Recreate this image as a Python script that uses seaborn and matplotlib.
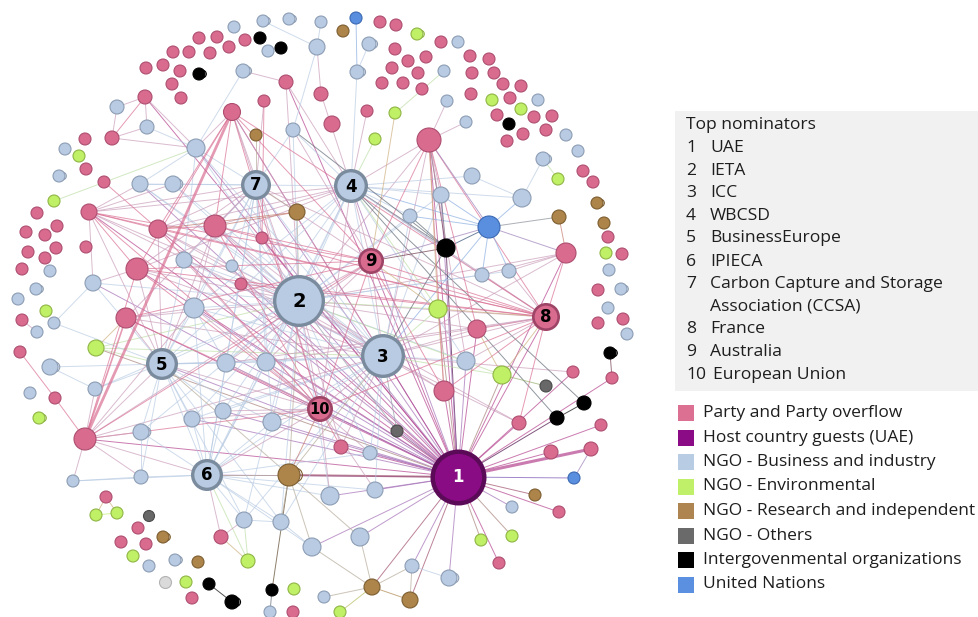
import numpy as np
import pandas as pd
import matplotlib
matplotlib.use("Agg")
import matplotlib.pyplot as plt
import matplotlib.colors as mcolors
from matplotlib.collections import LineCollection
from matplotlib.patches import Rectangle
import seaborn as sns

sns.set_theme(style="white")
plt.rcParams["font.family"] = ["Open Sans", "DejaVu Sans"]

# ---- nodes: (name, x, y, radius, self-loop) in layout units ----
party = [
    ("p1", 199, 38, 6, 0), ("p2", 217, 37, 6, 0), ("p3", 245, 40, 6, 0), ("p4", 229, 47, 6, 0),
    ("p5", 173, 52, 6, 0), ("p6", 189, 52, 6, 0), ("p7", 210, 53, 6, 0), ("p8", 146, 68, 6, 0),
    ("p9", 163, 65, 6, 0), ("p10", 180, 71, 6, 0), ("p11", 172, 84, 6, 0), ("p12", 181, 98, 6, 0),
    ("p13", 286, 82, 7, 0), ("p14", 321, 94, 7, 0), ("p15", 145, 97, 7, 0), ("p16", 264, 101, 6, 0),
    ("p17", 232, 112, 8.5, 0), ("p18", 112, 138, 7, 0), ("p19", 85, 139, 6, 0), ("p20", 86, 169, 6, 0),
    ("p21", 104, 182, 6, 0), ("p22", 37, 213, 6, 0), ("p23", 89, 212, 8, 0), ("p24", 57, 226, 6, 0),
    ("p25", 26, 232, 6, 0), ("p26", 45, 235, 6, 0), ("p27", 158, 229, 9, 0), ("p28", 215, 226, 11, 0),
    ("p29", 28, 252, 6, 0), ("p30", 56, 248, 6, 0), ("p31", 86, 247, 6, 0), ("p32", 262, 238, 6, 0),
    ("p33", 45, 258, 6, 0), ("p34", 22, 269, 6, 0), ("p35", 137, 269, 11, 0), ("p36", 241, 284, 6, 0),
    ("p37", 332, 124, 8, 0), ("p38", 380, 22, 6, 0), ("p39", 396, 25, 6, 0), ("p40", 395, 49, 6, 0),
    ("p41", 426, 57, 6, 0), ("p42", 408, 61, 6, 0), ("p43", 392, 68, 6, 0), ("p44", 418, 73, 6, 0),
    ("p45", 382, 83, 6, 0), ("p46", 403, 83, 6, 0), ("p47", 422, 89, 6, 0), ("p48", 441, 42, 6, 0),
    ("p49", 470, 56, 6, 0), ("p50", 489, 59, 6, 0), ("p51", 472, 73, 6, 0), ("p52", 494, 73, 6, 0),
    ("p53", 503, 84, 6, 0), ("p54", 521, 86, 6, 0), ("p55", 471, 94, 6, 0), ("p56", 510, 98, 6, 0),
    ("p57", 497, 115, 6, 0), ("p58", 534, 117, 6, 0), ("p59", 552, 116, 6, 0), ("p60", 523, 134, 6, 0),
    ("p61", 507, 141, 6, 0), ("p62", 546, 130, 6, 0), ("p63", 367, 111, 6, 0), ("p64", 429, 140, 12, 0),
    ("p65", 583, 171, 6, 0), ("p66", 593, 182, 6, 0), ("p67", 608, 237, 6, 0), ("p68", 622, 254, 6, 0),
    ("p69", 566, 253, 10, 0), ("p70", 598, 290, 6, 0), ("p71", 598, 323, 6, 0), ("p72", 623, 319, 6, 0),
    ("p73", 477, 329, 9, 0), ("p74", 444, 391, 10, 0), ("p75", 573, 372, 6, 0), ("p76", 612, 378, 6, 0),
    ("p77", 519, 423, 7, 0), ("p78", 601, 425, 6, 0), ("p79", 591, 449, 7, 0), ("p80", 551, 452, 7, 0),
    ("p81", 559, 512, 6, 0), ("p82", 499, 563, 6, 0), ("p83", 341, 447, 7, 0), ("p84", 126, 318, 10, 0),
    ("p85", 22, 320, 6, 0), ("p86", 20, 352, 6, 0), ("p87", 55, 398, 6, 0), ("p88", 85, 439, 11, 0),
    ("p89", 106, 497, 6, 0), ("p90", 138, 528, 6, 0), ("p91", 121, 542, 6, 0), ("p92", 146, 544, 6, 0),
    ("p93", 192, 598, 6, 0), ("p94", 221, 537, 7, 0), ("p95", 293, 612, 6, 0),
]
business = [
    ("b1", 234, 27, 6, 0), ("b2", 263, 21, 6, 1), ("b3", 289, 19, 6, 1), ("b4", 321, 22, 6, 0),
    ("b5", 268, 51, 6, 0), ("b6", 317, 47, 8, 0), ("b7", 243, 71, 7, 1), ("b8", 117, 107, 7, 0),
    ("b9", 147, 127, 7, 0), ("b10", 293, 130, 7, 0), ("b11", 65, 149, 6, 0), ("b12", 196, 148, 9, 0),
    ("b13", 59, 176, 6, 1), ("b14", 140, 184, 8, 0), ("b15", 173, 184, 8, 1), ("b16", 184, 260, 8, 0),
    ("b17", 232, 266, 6, 0), ("b18", 93, 283, 8, 0), ("b19", 50, 271, 6, 0), ("b20", 36, 289, 6, 1),
    ("b21", 18, 299, 6, 0), ("b22", 194, 308, 10, 0), ("b23", 54, 323, 6, 0), ("b24", 37, 332, 6, 0),
    ("b25", 50, 367, 8, 1), ("b26", 226, 363, 9, 0), ("b27", 266, 362, 9, 0), ("b28", 30, 393, 6, 0),
    ("b29", 95, 389, 7, 0), ("b30", 141, 432, 8, 1), ("b31", 192, 419, 8, 0), ("b32", 223, 411, 8, 0),
    ("b33", 272, 422, 9, 0), ("b34", 73, 481, 6, 0), ("b35", 141, 477, 7, 0), ("b36", 244, 520, 8, 0),
    ("b37", 281, 522, 8, 0), ("b38", 312, 547, 9, 0), ("b39", 330, 496, 9, 0), ("b40", 375, 490, 8, 0),
    ("b41", 370, 453, 7, 0), ("b42", 360, 537, 9, 0), ("b43", 149, 566, 6, 0), ("b44", 175, 560, 6, 1),
    ("b45", 270, 612, 6, 0), ("b46", 324, 597, 6, 0), ("b47", 412, 566, 7, 0), ("b48", 449, 578, 8, 1),
    ("b49", 512, 507, 6, 0), ("b50", 466, 361, 9, 0), ("b51", 482, 275, 7, 0), ("b52", 509, 271, 7, 0),
    ("b53", 522, 198, 9, 0), ("b54", 441, 195, 8, 0), ("b55", 410, 216, 7, 0), ("b56", 472, 176, 8, 0),
    ("b57", 466, 122, 6, 0), ("b58", 447, 101, 6, 0), ("b59", 444, 71, 6, 0), ("b60", 357, 72, 7, 1),
    ("b61", 369, 44, 7, 1), ("b62", 458, 42, 6, 0), ("b63", 538, 100, 6, 0), ("b64", 566, 135, 6, 0),
    ("b65", 578, 151, 6, 0), ("b66", 543, 159, 7, 1), ("b67", 609, 270, 6, 0), ("b68", 621, 289, 6, 1),
    ("b69", 608, 308, 6, 0), ("b70", 627, 334, 6, 0),
]
environmental = [
    ("g1", 417, 34, 6, 1), ("g2", 395, 113, 6, 0), ("g3", 375, 139, 6, 0), ("g4", 492, 100, 6, 0),
    ("g5", 521, 109, 6, 0), ("g6", 558, 179, 6, 0), ("g7", 606, 253, 6, 0), ("g8", 79, 156, 6, 0),
    ("g9", 54, 201, 6, 0), ("g10", 46, 311, 6, 0), ("g11", 96, 348, 8, 0), ("g12", 39, 418, 6, 1),
    ("g13", 96, 515, 6, 0), ("g14", 117, 513, 6, 0), ("g15", 133, 556, 6, 0), ("g16", 186, 582, 6, 0),
    ("g17", 248, 561, 7, 0), ("g18", 294, 589, 6, 0), ("g19", 340, 612, 6, 0), ("g20", 438, 309, 9, 0),
    ("g21", 502, 375, 9, 0), ("g22", 481, 540, 6, 0), ("g23", 512, 536, 6, 0),
]
research = [
    ("r1", 343, 31, 6, 0), ("r2", 256, 135, 6, 0), ("r3", 297, 212, 8, 0), ("r4", 597, 203, 6, 1),
    ("r5", 604, 223, 6, 0), ("r6", 559, 217, 7, 0), ("r7", 289, 475, 11, 1), ("r8", 163, 537, 6, 1),
    ("r9", 198, 562, 6, 0), ("r10", 372, 587, 8, 0), ("r11", 410, 600, 8, 0), ("r12", 535, 495, 6, 0),
]
others = [("o1", 149, 516, 5.5, 0), ("o2", 546, 386, 6, 0), ("o3", 397, 431, 6, 0)]
unclassified = [("x1", 165, 582, 6, 0)]
igo = [
    ("i1", 260, 38, 6, 0), ("i2", 281, 48, 6, 0), ("i3", 199, 74, 6, 1), ("i4", 509, 124, 6, 0),
    ("i5", 446, 248, 9, 0), ("i6", 610, 353, 6, 1), ("i7", 584, 403, 7, 0), ("i8", 557, 418, 7, 0),
    ("i9", 209, 584, 6, 0), ("i10", 232, 602, 7, 1), ("i11", 272, 590, 6, 0),
]
united_nations = [("u1", 356, 18, 6, 0), ("u2", 489, 227, 11, 0), ("u3", 574, 478, 6, 0)]

# top nominators: (name, label, kind, x, y, radius)
hubs = [
    ("H1", "1", "host", 458, 477, 28), ("H2", "2", "business", 299, 301, 26),
    ("H3", "3", "business", 383, 356, 22), ("H4", "4", "business", 351, 186, 17),
    ("H5", "5", "business", 162, 364, 16), ("H6", "6", "business", 207, 475, 16),
    ("H7", "7", "business", 256, 185, 15), ("H8", "8", "party", 546, 317, 14),
    ("H9", "9", "party", 371, 261, 13), ("H10", "10", "party", 320, 409, 13),
]
nominator_names = ["UAE", "IETA", "ICC", "WBCSD", "BusinessEurope", "IPIECA",
                   "Carbon Capture and Storage\nAssociation (CCSA)", "France",
                   "Australia", "European Union"]

# ---- co-nomination links ----
uae_links = ("H2 H3 H4 H5 H6 H7 H8 H9 H10 p17 p23 p27 p28 p35 p84 p88 p64 p69 p73 p74 p75 p76 "
             "p77 p78 p79 p80 p81 p82 p83 u3 r12 b49 g22 g23 b48 b47 r10 r11 b42 b38 b39 b40 "
             "b41 o3 r7 i5 i8 g20 g21 b50 b54 b22 b26 b27 b32 b33 p36 p32 p13 b16 b12 p15 "
             "b14 b18 g11 b31").split()
ieta_links = ("H3 H4 H5 H6 H7 H8 H9 H10 p17 p23 p27 p28 p32 p35 p36 p84 p88 b12 b14 b15 b16 b17 "
              "b18 b22 b26 b27 b31 b32 b33 r3 g11 p13 p64 b10 b55 b54 g20 p73 b50 p74 g21 b36 "
              "b37 r7 b39 b41 p83 b29 b30 p69 b51 b52 p77 o3").split()
icc_links = ("H4 H5 H6 H7 H8 H9 H10 p17 p23 p27 p28 p35 p84 p88 b22 b26 b27 b31 b32 b33 b16 g11 "
             "g20 p73 b50 p74 g21 p77 o3 p83 b41 b40 r7 p64 i5 u2 b55 p75 b54 p69 b12 b14 "
             "b15 p36 b36 b37").split()
wbcsd_links = ("H5 H6 H7 H8 H9 H10 b60 g3 p63 p14 p13 b10 b55 b56 b54 i5 u2 i7 i8 b26 b27 b22 "
               "p28 p27 b53 p64 b51 p35 p23 g20 b50").split()
be_links = ("H6 H7 H10 b18 b22 b23 b25 b29 b30 b31 b32 b26 b27 b33 g11 p84 p35 p23 p88 b16 r7 "
            "b35 p27 p28 b36 b37").split()
ipieca_links = ("H7 H10 b30 b31 b32 b33 b34 b35 b36 b37 p94 g17 r7 b39 p88 b26 b27 b22 b41 "
                "b40 b38").split()
ccsa_links = ("H8 H9 H10 b12 b14 b15 p16 r2 p17 p27 p28 p23 r3 p32 b16 b26 b27 b22 p35 b10 "
              "b17 p84 b33").split()
france_links = ("H9 H10 g20 p73 b50 g21 p74 p69 p64 b51 b52 p77 p36 p28 p17 p23 p27 p35 "
                "b26 b27").split()
australia_links = ("H10 b10 i5 u2 g2 p64 p17 p28 p74 b26 b27 p88 p35 g20 p23 p84").split()
eu_links = ("p88 p84 b26 b27 b31 b32 b33 p83 b41 b40 b39 r7 p35 p23 p28 p17 b22 b16 p27").split()
other_links = [
    ("b2", "b6"), ("b4", "b6"), ("b6", "p14"), ("b6", "b10"), ("b7", "b12"), ("b7", "p13"),
    ("p15", "b8"), ("p15", "b9"), ("p15", "p18"), ("p15", "b12"), ("b8", "p18"), ("p18", "b9"),
    ("b9", "b12"), ("p18", "b12"), ("g9", "b12"), ("b12", "p17"), ("b12", "b14"), ("b12", "b16"),
    ("p16", "p32"), ("p21", "p27"), ("p23", "b14"), ("p23", "b15"), ("p23", "p27"), ("p23", "b18"),
    ("p23", "p35"), ("b14", "b15"), ("p27", "r3"), ("p28", "p17"), ("p28", "r3"), ("p27", "p28"),
    ("p35", "b18"), ("b22", "b26"), ("b22", "p28"), ("p84", "g11"), ("p84", "b22"), ("p85", "b24"),
    ("p86", "p87"), ("p87", "p88"), ("b29", "b25"), ("b23", "b18"), ("p88", "b34"),
    ("p88", "b35"), ("p88", "b22"), ("p88", "b29"), ("b34", "b35"), ("b35", "b30"), ("r7", "i11"),
    ("r7", "b38"), ("r7", "b37"), ("r7", "b42"), ("g17", "b36"), ("p94", "g17"), ("p94", "b36"),
    ("b36", "b37"), ("b37", "b38"), ("b38", "r10"), ("b42", "r10"), ("r10", "r11"), ("r10", "b47"),
    ("r11", "b47"), ("b47", "b48"), ("r10", "g19"), ("r10", "b46"), ("p89", "g13"), ("p89", "g14"),
    ("g13", "g14"), ("i9", "i10"), ("i11", "b45"), ("p69", "r6"), ("p69", "u2"), ("p69", "b52"),
    ("p69", "b51"), ("u2", "b53"), ("u2", "b54"), ("u2", "b55"), ("u2", "b51"), ("u2", "b52"),
    ("u2", "i5"), ("u2", "r6"), ("b53", "b66"), ("b66", "g6"), ("b53", "b56"), ("i5", "b54"),
    ("i5", "b10"), ("i5", "b55"), ("p64", "b57"), ("p64", "b58"), ("p64", "b54"), ("p64", "i5"),
    ("p64", "u2"), ("g2", "b59"), ("b60", "u1"), ("b61", "b60"), ("g21", "o2"), ("p74", "g20"),
    ("p73", "g21"), ("p76", "i6"), ("i7", "i8"), ("p79", "u3"), ("p88", "p84"), ("p88", "p17"),
    ("p88", "p35"), ("p88", "b30"), ("p17", "p35"), ("p17", "p27"), ("p64", "p73"), ("p64", "b50"),
    ("p64", "p74"), ("p64", "g20"),
]
heavy_links = {("p88", "p17"): 2.0, ("H1", "p79"): 2.2, ("H1", "r7"): 1.4, ("p88", "p84"): 1.2}

fill = {
    "party": "#d96b8f", "host": "#8a0c85", "business": "#b8cbe3", "environmental": "#bff066",
    "research": "#ad8449", "others": "#686868", "igo": "#000000", "un": "#5a8fdf",
    "unclassified": "#dadada",
}
rim = {
    "party": "#ad4e70", "host": "#5b0a57", "business": "#8c9db4", "environmental": "#8fb545",
    "research": "#7d5e31", "others": "#4a4a4a", "igo": "#000000", "un": "#3b69b2",
    "unclassified": "#b3b3b3",
}
groups = {
    "party": party, "business": business, "environmental": environmental,
    "research": research, "others": others, "unclassified": unclassified,
    "igo": igo, "un": united_nations,
}

rows = []
for kind, items in groups.items():
    for name, x, y, r, loop in items:
        rows.append(dict(name=name, x=x, y=y, r=r, loop=loop, kind=kind, label=""))
for name, label, kind, x, y, r in hubs:
    rows.append(dict(name=name, x=x, y=y, r=r, loop=0, kind=kind, label=label))
nodes = pd.DataFrame(rows).set_index("name", drop=False)

edge_pairs = []
for hub, links in [("H1", uae_links), ("H2", ieta_links), ("H3", icc_links), ("H4", wbcsd_links),
                   ("H5", be_links), ("H6", ipieca_links), ("H7", ccsa_links),
                   ("H8", france_links), ("H9", australia_links), ("H10", eu_links)]:
    edge_pairs += [(hub, t) for t in links]
edge_pairs += other_links

segs, cols, widths = [], [], []
for a, b in edge_pairs:
    na, nb = nodes.loc[a], nodes.loc[b]
    segs.append([(na.x, na.y), (nb.x, nb.y)])
    ca = np.array(mcolors.to_rgb(fill[na.kind]))
    cb = np.array(mcolors.to_rgb(fill[nb.kind]))
    mix = 0.5 * (ca + cb)
    cols.append((*mix, 0.68))
    widths.append(heavy_links.get((a, b), heavy_links.get((b, a), 0.7)))

PX = 0.72  # points per layout unit at 100 dpi
fig = plt.figure(figsize=(9.79, 6.17), dpi=100)
ax = fig.add_axes([0, 0, 1, 1])

ax.add_collection(LineCollection(segs, colors=cols, linewidths=widths, zorder=1))

# self loops, tucked behind the nodes
loops = nodes[nodes.loop == 1]
for _, n in loops.iterrows():
    ax.scatter(n.x + 0.6 * n.r, n.y, s=(2 * 0.62 * n.r * PX) ** 2, facecolors="none",
               edgecolors=rim[n.kind], linewidths=0.8, zorder=1.5)

small = nodes[nodes.label == ""]
for kind in groups:
    d = small[small.kind == kind]
    sizes = {r: (2 * r * PX) ** 2 for r in d.r.unique()}
    sns.scatterplot(data=d, x="x", y="y", size="r", sizes=sizes, color=fill[kind],
                    edgecolor=rim[kind], linewidth=0.8, legend=False, ax=ax, zorder=2)

hub_rim = {"business": ("#7b8b9e", 2.4), "host": ("#5b0a57", 3.2), "party": ("#9e4466", 1.9)}
big = nodes[nodes.label != ""]
for kind, (ec, lw) in hub_rim.items():
    d = big[big.kind == kind]
    sizes = {r: (2 * r * PX - lw) ** 2 for r in d.r.unique()}
    sns.scatterplot(data=d, x="x", y="y", size="r", sizes=sizes, color=fill[kind],
                    edgecolor=ec, linewidth=lw, legend=False, ax=ax, zorder=3)

for _, n in big.iterrows():
    fs = 14 if n.label == "2" else (10.5 if n.label == "10" else 12)
    ax.text(n.x, n.y + 0.5, n.label, ha="center", va="center", fontsize=fs,
            fontweight="heavy", family="DejaVu Sans",
            color="white" if n.kind == "host" else "black", zorder=4)

# ---- legend panels ----
ax.add_patch(Rectangle((675, 111), 303, 280, facecolor="#f1f1f1", edgecolor="none", zorder=0))
txt = "#1e1e1e"
nom_fs = 12.6
ax.text(686, 125, "Top nominators", fontsize=nom_fs, color=txt, va="center")
ys = [148, 171, 193, 216, 238.5, 261.5, 284, 329, 352, 375]
for i, (nm, y) in enumerate(zip(nominator_names, ys)):
    ax.text(686, y, str(i + 1), fontsize=nom_fs, color=txt, va="center")
    name_x = 710 if i < 9 else 713
    for j, line in enumerate(nm.split("\n")):
        ax.text(name_x, y + 22.5 * j, line, fontsize=nom_fs, color=txt, va="center")

categories = ["Party and Party overflow", "Host country guests (UAE)", "NGO - Business and industry",
              "NGO - Environmental", "NGO - Research and independent", "NGO - Others",
              "Intergovenmental organizations", "United Nations"]
category_kinds = ["party", "host", "business", "environmental", "research", "others", "igo", "un"]
swatch = {"party": "#dc7093", "host": "#8b0a86", "business": "#b8cce4", "environmental": "#c0ef6a",
          "research": "#ae8450", "others": "#6a6a6a", "igo": "#000000", "un": "#5b8fe0"}
for i, (lab, k) in enumerate(zip(categories, category_kinds)):
    y = 413 + 24.5 * i
    ax.add_patch(Rectangle((678, y - 8), 16, 16, facecolor=swatch[k], edgecolor="none"))
    ax.text(703, y, lab, fontsize=12.5, color=txt, va="center")

ax.set_xlim(0, 979)
ax.set_ylim(617, 0)
ax.axis("off")
fig.savefig("out.png", dpi=100)
